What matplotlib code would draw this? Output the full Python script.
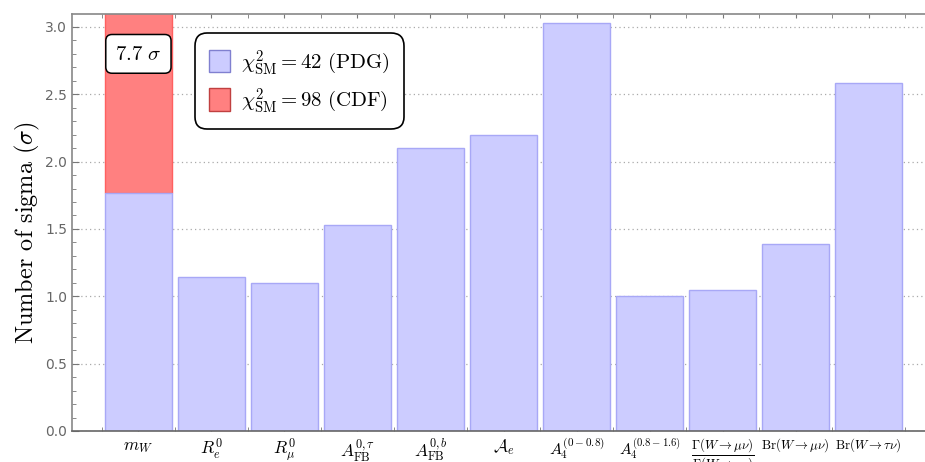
import numpy as np
import matplotlib
matplotlib.use("Agg")
from matplotlib import pyplot as plt
from matplotlib.patches import Patch
from matplotlib.ticker import MultipleLocator

plt.rcParams['mathtext.fontset'] = 'cm'

# observables and their pulls (in sigma)
labels = [r'$m_W$', r'$R_e^0$', r'$R_\mu^0$', r'$A_{\rm FB}^{0,\tau}$', r'$A_{\rm FB}^{0,b}$',
          r'$\mathcal{A}_e$', r'$A_4^{(0-0.8)}$', r'$A_4^{(0.8-1.6)}$',
          r'$\dfrac{\Gamma(W\to\mu\nu)}{\Gamma(W\to e\nu)}$',
          r'${\rm Br}(W\to\mu\nu)$', r'${\rm Br}(W\to\tau\nu)$']
label_sizes = [12.5, 12.5, 12.5, 12.5, 12.5, 12.5, 11.5, 11, 9.3, 9.3, 9.3]
sigma_pdg = [1.77, 1.14, 1.10, 1.53, 2.10, 2.20, 3.03, 1.00, 1.05, 1.39, 2.58]
sigma_cdf_mw = 7.7

blue = '#ccccff'
blue_edge = '#a8a8f6'
red = '#ff8080'
red_edge = '#ff6060'

fig = plt.figure(figsize=(9.25, 4.62), dpi=100)
ax = fig.add_axes([0.0778, 0.0671, 0.922, 0.9026])

x = np.arange(1, len(sigma_pdg) + 1)
# CDF mass bar sits behind the PDG bars
ax.bar(x[0], sigma_cdf_mw - sigma_pdg[0], bottom=sigma_pdg[0], width=0.92,
       color=red, edgecolor=red_edge, linewidth=1.0, zorder=2)
ax.bar(x, sigma_pdg, width=0.92, color=blue, edgecolor=blue_edge, linewidth=1.0, zorder=2)

ax.set_xlim(0.09, 11.77)
ax.set_ylim(0, 3.096)

ax.yaxis.set_major_locator(MultipleLocator(0.5))
ax.yaxis.set_minor_locator(MultipleLocator(0.1))
ax.yaxis.grid(True, which='major', linestyle=(0, (1, 2.5)), color='#aaaaaa', linewidth=0.9, zorder=0)
ax.set_axisbelow(True)

ax.set_xticks(x)
ax.set_xticks(np.arange(0.5, 12, 1.0), minor=True)
ax.set_xticklabels(labels)
for t, s in zip(ax.get_xticklabels(), label_sizes):
    t.set_fontsize(s)

ax.tick_params(axis='x', which='both', direction='in', length=3, color='#777777',
               top=True, pad=4)
ax.tick_params(axis='y', which='major', direction='in', length=5, color='#777777',
               labelcolor='#666666', labelsize=10)
ax.tick_params(axis='y', which='minor', direction='in', length=3, color='#777777')

for side in ['left', 'top', 'bottom']:
    ax.spines[side].set_color('#888888')
    ax.spines[side].set_linewidth(1.2)
ax.spines['bottom'].set_color('#666666')
ax.spines['right'].set_visible(False)

ax.set_ylabel(r'Number of sigma $(\sigma)$', fontsize=17.5, family='cmr10')
ax.yaxis.set_label_coords(-0.035, 0.477)

ax.text(1, 2.80, r'$7.7\ \sigma$', ha='center', va='center', fontsize=15,
        bbox=dict(boxstyle='round,pad=0.45,rounding_size=0.3', fc='white', ec='black', lw=1.1),
        zorder=5)

handles = [Patch(facecolor=blue, edgecolor='#8080d0'), Patch(facecolor=red, edgecolor='#c04040')]
leg = ax.legend(handles, [r'$\chi^2_{\rm SM} = 42\ ({\rm PDG})$', r'$\chi^2_{\rm SM} = 98\ ({\rm CDF})$'],
                loc='upper left', bbox_to_anchor=(0.144, 0.954), borderaxespad=0,
                fontsize=15, fancybox=True, framealpha=1, edgecolor='black',
                handlelength=1.0, handleheight=1.3, handletextpad=0.5,
                borderpad=0.7, labelspacing=0.45)
leg.get_frame().set_linewidth(1.2)
leg.get_frame().set_boxstyle('round,pad=0,rounding_size=0.6')
leg.set_zorder(6)

fig.savefig('out.png', dpi=100)
